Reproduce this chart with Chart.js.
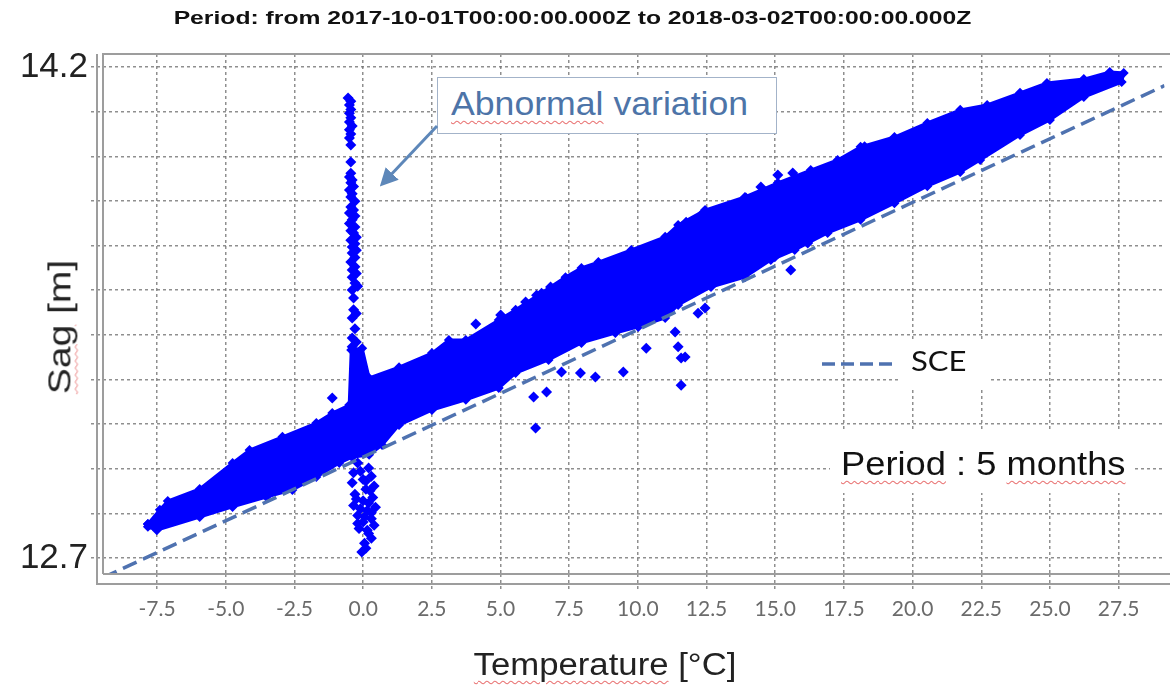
<!DOCTYPE html>
<html>
<head>
<meta charset="utf-8">
<script src="https://cdn.jsdelivr.net/npm/chart.js@4/dist/chart.umd.min.js"></script>
<style>
  html, body { margin:0; padding:0; background:#fff; }
  #wrap { position:relative; width:1170px; height:686px; overflow:hidden; }
  canvas { position:absolute; left:0; top:0; }
  .ov { position:absolute; font-family:"Liberation Sans", Arial, sans-serif; white-space:nowrap; }
  .sq { text-decoration: underline wavy rgba(225,70,70,0.75); text-decoration-thickness:1px; text-underline-offset:5px; }
</style>
</head>
<body>
<div id="wrap">
  <canvas id="c" width="1170" height="686"></canvas>
  <div class="ov" id="title" style="left:0;width:1145px;top:7px;text-align:center;font-weight:bold;font-size:19px;color:#111;transform:scaleX(1.3);">Period: from 2017-10-01T00:00:00.000Z to 2018-03-02T00:00:00.000Z</div>
  <div class="ov" id="ytitle" style="left:60px;top:327px;font-size:39px;color:#222;transform:translate(-50%,-50%) rotate(-90deg) scaleY(0.8);"><span class="sq">Sag</span> [m]</div>
  <div class="ov" id="xtitle" style="left:605px;top:665px;font-size:31px;color:#222;transform:translate(-50%,-50%) scaleX(1.12);"><span class="sq">Temperature</span> [°C]</div>
  <div class="ov" id="abn" style="left:437px;top:77px;width:338px;height:55px;background:#fff;border:1.5px solid #a3b3c9;"></div>
  <div class="ov" style="left:451px;top:86px;font-size:33px;line-height:36px;color:#4d74a8;transform:scaleX(1.08);transform-origin:left center;"><span class="sq">Abnormal</span> variation</div>
  <svg class="ov" style="left:0;top:0;" width="1170" height="686">
    <defs>
      <marker id="ah" markerWidth="6" markerHeight="6" refX="3" refY="3" orient="auto" markerUnits="strokeWidth">
        <path d="M0,0 L6,3 L0,6 z" fill="#5d87b9"/>
      </marker>
    </defs>
    <line x1="437" y1="126" x2="386" y2="180" stroke="#5d87b9" stroke-width="3" marker-end="url(#ah)"/>
    <line x1="822" y1="364" x2="895" y2="364" stroke="#4f72b0" stroke-width="3.5" stroke-dasharray="13,6"/>
  </svg>
  <div class="ov" style="left:900px;top:340px;width:88px;height:47px;background:#fff;"></div>
  <div class="ov" style="left:911px;top:345px;font-family:Lato, 'Open Sans', sans-serif;font-size:27px;line-height:32px;color:#111;transform:scaleX(1.15);transform-origin:left center;">SCE</div>
  <div class="ov" style="left:830px;top:432px;width:305px;height:61px;background:#fff;"></div>
  <div class="ov" style="left:841px;top:444px;font-size:33px;line-height:40px;color:#111;transform:scaleX(1.1);transform-origin:left center;"><span class="sq">Period</span> : 5 <span class="sq">months</span></div>
</div>
<script>
// ---- axis definitions ----
const xMin = -9.47, xMax = 29.17;
const yMin = 12.651, yMax = 14.2397;
const xTickValues = [-7.5,-5,-2.5,0,2.5,5,7.5,10,12.5,15,17.5,20,22.5,25,27.5];
const xTickLabels = ['-7.5','-5.0','-2.5','0.0','2.5','5.0','7.5','10.0','12.5','15.0','17.5','20.0','22.5','25.0','27.5'];
const yTickValues = [12.7,12.836,12.973,13.109,13.245,13.382,13.518,13.655,13.791,13.927,14.064,14.2];
const yTickLabels = ['12.7','','','','','','','','','','','14.2'];

// ---- SCE reference line (read at both ends) ----
const sceT = [-9.47, 29.17];
const sceV = [12.640, 14.143];

const bandUpperT = [-7.837,-7.402,-7.112,-5.951,-4.753,-4.136,-2.939,-1.705,-1.125,-0.508,-0.435,-0.036,0.218,1.306,2.504,3.120,3.737,4.935,5.551,6.495,7.366,7.946,8.563,9.760,10.994,11.466,12.445,13.897,15.094,16.292,17.271,18.106,19.339,20.537,21.734,22.714,23.911,24.891,26.233,27.177,27.685];
const bandUpperV = [12.804,12.847,12.874,12.911,12.990,13.030,13.070,13.112,13.143,13.167,13.335,13.341,13.250,13.283,13.326,13.366,13.366,13.427,13.458,13.510,13.558,13.586,13.604,13.641,13.681,13.717,13.763,13.803,13.846,13.885,13.916,13.956,13.986,14.029,14.069,14.084,14.121,14.151,14.163,14.185,14.182];
const bandLowerT = [27.612,26.233,25.000,23.911,22.460,21.734,20.537,19.339,18.106,16.908,15.711,14.840,13.897,12.663,11.466,10.994,10.014,9.180,7.946,6.749,5.551,4.935,3.737,2.504,1.306,0.689,0.218,-0.399,-0.871,-1.705,-2.576,-3.520,-4.753,-5.951,-7.511,-7.837];
const bandLowerV = [14.154,14.108,14.038,13.992,13.916,13.879,13.836,13.784,13.733,13.693,13.641,13.610,13.558,13.528,13.473,13.433,13.406,13.387,13.357,13.305,13.265,13.219,13.183,13.152,13.106,13.045,13.015,13.008,12.990,12.947,12.908,12.886,12.856,12.825,12.785,12.795];

// ---- vertical "abnormal" spike near 0 °C ----
const spikeT = [-0.55,-0.45,-0.5,-0.45,-0.5,-0.45,-0.5,-0.4,-0.5,-0.45,-0.5,-0.45,-0.45,-0.45,-0.5,-0.4,-0.45,-0.35,-0.5,-0.4,-0.45,-0.3,-0.45,-0.35,-0.5,-0.3,-0.4,-0.5,-0.3,-0.45,-0.35,-0.25,-0.45,-0.3,-0.4,-0.25,-0.4,-0.3,-0.45,-0.3,-0.4,-0.25,-0.4,-0.3,-0.2,-0.4,-0.35,-0.35,-0.25,-0.4,-0.3,-0.4,-0.25,-0.4,
  -0.2,0.2,-0.35,0.3,0.0,-0.4,0.4,0.1,-0.3,0.35,0.0,-0.35,0.45,0.15,-0.2,0.3,0.0,0.4,-0.15,0.2,0.3,0.05,0.1,-0.05,
  -0.1,0.1,0.25,-0.25,0.2,-0.1,0.3,0.05,-0.2,0.15];
const spikeV = [14.105,14.095,14.084,14.070,14.059,14.045,14.032,14.020,14.008,13.995,13.983,13.962,13.910,13.875,13.864,13.855,13.846,13.835,13.824,13.813,13.803,13.790,13.772,13.763,13.754,13.745,13.733,13.722,13.711,13.700,13.693,13.680,13.671,13.660,13.650,13.640,13.632,13.618,13.604,13.590,13.580,13.569,13.558,13.540,13.530,13.519,13.494,13.458,13.447,13.433,13.400,13.372,13.360,13.345,
  12.990,12.975,12.960,12.950,12.940,12.930,12.920,12.910,12.895,12.885,12.875,12.860,12.855,12.845,12.830,12.820,12.810,12.800,12.790,12.775,12.760,12.745,12.730,12.718,
  12.965,12.935,12.905,12.880,12.868,12.850,12.838,12.826,12.805,12.785];

// ---- isolated points around the cloud ----
const outT = [-1.125,4.100,5.007,5.914,6.313,6.821,11.756,12.373,12.990,13.933,14.477,15.094,15.638,18.251,18.723,
  6.277,6.205,6.676,7.220,7.910,8.454,9.470,10.305,11.575,11.575,11.357,11.720,11.466,12.191,12.445,14.985,15.566,16.183];
const outV = [13.189,13.415,13.442,13.482,13.503,13.528,13.726,13.754,13.763,13.800,13.833,13.870,13.876,13.956,13.956,
  13.097,13.192,13.207,13.268,13.265,13.253,13.268,13.341,13.228,13.311,13.390,13.314,13.345,13.448,13.464,13.620,13.580,13.662];

// ---- build library datasets ----
const pts = (t, v) => t.map((x, i) => ({x, y: v[i]}));
const bandPoly = pts(bandUpperT, bandUpperV).concat(pts(bandLowerT, bandLowerV));
bandPoly.push(bandPoly[0]);

const BLUE = '#0000ff';
const GRID = 'rgba(115,115,115,0.8)';
const framePlugin = {
  id: 'frame',
  afterDraw(chart) {
    const {ctx, chartArea: a} = chart;
    ctx.save();
    ctx.strokeStyle = '#9d9d9d';
    ctx.lineWidth = 2;
    ctx.beginPath();
    ctx.moveTo(a.left, a.bottom); ctx.lineTo(a.left, a.top); ctx.lineTo(chart.width, a.top);
    ctx.moveTo(a.left, a.bottom); ctx.lineTo(chart.width, a.bottom);
    ctx.moveTo(a.left - 6, a.top); ctx.lineTo(a.left - 6, a.bottom + 10); ctx.lineTo(chart.width, a.bottom + 10);
    ctx.stroke();
    ctx.restore();
  }
};

new Chart(document.getElementById('c'), {
  type: 'scatter',
  data: {
    datasets: [
      { label: 'SCE', data: pts(sceT, sceV), showLine: true, borderColor: '#4f72b0', borderWidth: 3.5,
        borderDash: [15, 7], pointRadius: 0, order: 0 },
      { label: 'spike', data: pts(spikeT, spikeV), pointStyle: 'rectRot', pointRadius: 5.5,
        backgroundColor: BLUE, borderColor: BLUE, borderWidth: 0, order: 1 },
      { label: 'outliers', data: pts(outT, outV), pointStyle: 'rectRot', pointRadius: 5.5,
        backgroundColor: BLUE, borderColor: BLUE, borderWidth: 0, order: 1 },
      { label: 'Sag', data: bandPoly, showLine: true, fill: 'shape', tension: 0,
        backgroundColor: BLUE, borderColor: BLUE, borderWidth: 3,
        pointStyle: 'rectRot', pointRadius: 5, pointBackgroundColor: BLUE, pointBorderWidth: 0, order: 2 }
    ]
  },
  options: {
    responsive: false,
    animation: false,
    layout: { padding: { top: 54, right: 2, left: 0, bottom: 0 } },
    plugins: { legend: { display: false }, tooltip: { enabled: false }, title: { display: false } },
    scales: {
      x: {
        type: 'linear', min: xMin, max: xMax,
        afterBuildTicks: s => { s.ticks = xTickValues.map(v => ({value: v})); },
        afterFit: s => { s.height = 112; },
        grid: { color: GRID, lineWidth: 1.5, tickLength: 16, tickBorderDash: [3, 3] },
        border: { display: false, dash: [3, 3] },
        ticks: { autoSkip: false, maxRotation: 0, padding: 7, color: '#6b6b6b',
          font: { family: 'Lato', size: 21 }, callback: (v, i) => xTickLabels[i] }
      },
      y: {
        type: 'linear', min: yMin, max: yMax,
        afterBuildTicks: s => { s.ticks = yTickValues.map(v => ({value: v})); },
        afterFit: s => { s.width = 103; },
        grid: { color: GRID, lineWidth: 1.5, tickLength: 12, tickBorderDash: [3, 3] },
        border: { display: false, dash: [3, 3] },
        ticks: { autoSkip: false, padding: 3, color: '#222',
          font: { family: "'Liberation Sans', Arial", size: 35 }, callback: (v, i) => yTickLabels[i] }
      }
    }
  },
  plugins: [framePlugin]
});
</script>
</body>
</html>
